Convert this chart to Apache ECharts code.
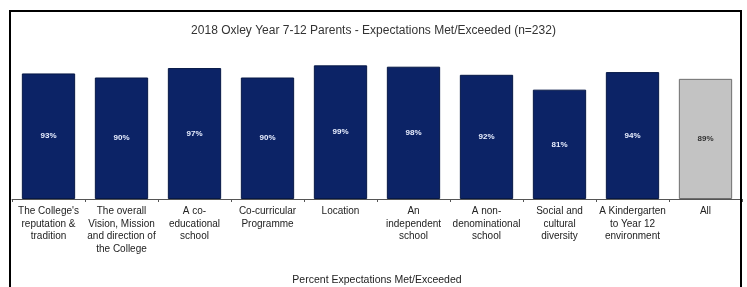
<!DOCTYPE html>
<html>
<head>
<meta charset="utf-8">
<script src="https://cdn.jsdelivr.net/npm/echarts@6/dist/echarts.min.js"></script>
<style>
  html, body { margin: 0; padding: 0; background: #fff; }
  #chart { width: 747px; height: 287px; }
</style>
</head>
<body>
<div id="chart"></div>
<script>
// categories and values
var categories = [
  "The College's\nreputation &\ntradition",
  'The overall\nVision, Mission\nand direction of\nthe College',
  'A co-\neducational\nschool',
  'Co-curricular\nProgramme',
  'Location',
  'An\nindependent\nschool',
  'A non-\ndenominational\nschool',
  'Social and\ncultural\ndiversity',
  'A Kindergarten\nto Year 12\nenvironment',
  'All'
]
var metExceeded = [93, 90, 97, 90, 99, 98, 92, 81, 94, 89]

var chart = echarts.init(document.getElementById('chart'))

var barData = metExceeded.map(function (v, i) {
  var isAll = i === metExceeded.length - 1
  return {
    value: v,
    itemStyle: isAll
      ? { color: '#c3c3c3', borderColor: '#6f6f6f', borderWidth: 1 }
      : { color: '#0c2366', borderColor: '#061846', borderWidth: 1 },
    label: { color: isAll ? '#333' : '#e8eeff' }
  }
})

chart.setOption({
  backgroundColor: '#fff',
  animation: false,
  textStyle: { fontFamily: 'Liberation Sans, Arial, sans-serif' },
  title: {
    text: '2018 Oxley Year 7-12 Parents - Expectations Met/Exceeded (n=232)',
    left: 'center',
    top: 20,
    textStyle: { fontSize: 12, fontWeight: 'normal', color: '#333' }
  },
  grid: { left: 12, right: 5, top: 64, bottom: 87 },
  xAxis: {
    type: 'category',
    data: categories,
    name: 'Percent Expectations Met/Exceeded',
    nameLocation: 'middle',
    nameGap: 76,
    nameTextStyle: { fontSize: 10.5, color: '#222' },
    axisLine: { lineStyle: { color: '#555', width: 1 } },
    axisTick: { show: true, length: 3, lineStyle: { color: '#555' } },
    axisLabel: {
      interval: 0,
      fontSize: 10,
      lineHeight: 12.5,
      color: '#222',
      margin: 6
    }
  },
  yAxis: {
    type: 'value',
    min: 0,
    max: 100,
    show: false,
    splitLine: { show: false }
  },
  series: [{
    type: 'bar',
    data: barData,
    barCategoryGap: '27%',
    label: {
      show: true,
      position: 'inside',
      formatter: '{c}%',
      fontSize: 8,
      fontWeight: 'bold'
    }
  }],
  graphic: [{
    type: 'rect',
    shape: { x: 10, y: 11, width: 731, height: 300 },
    style: { fill: 'none', stroke: '#000', lineWidth: 2 },
    z: 100
  }]
})
</script>
</body>
</html>
